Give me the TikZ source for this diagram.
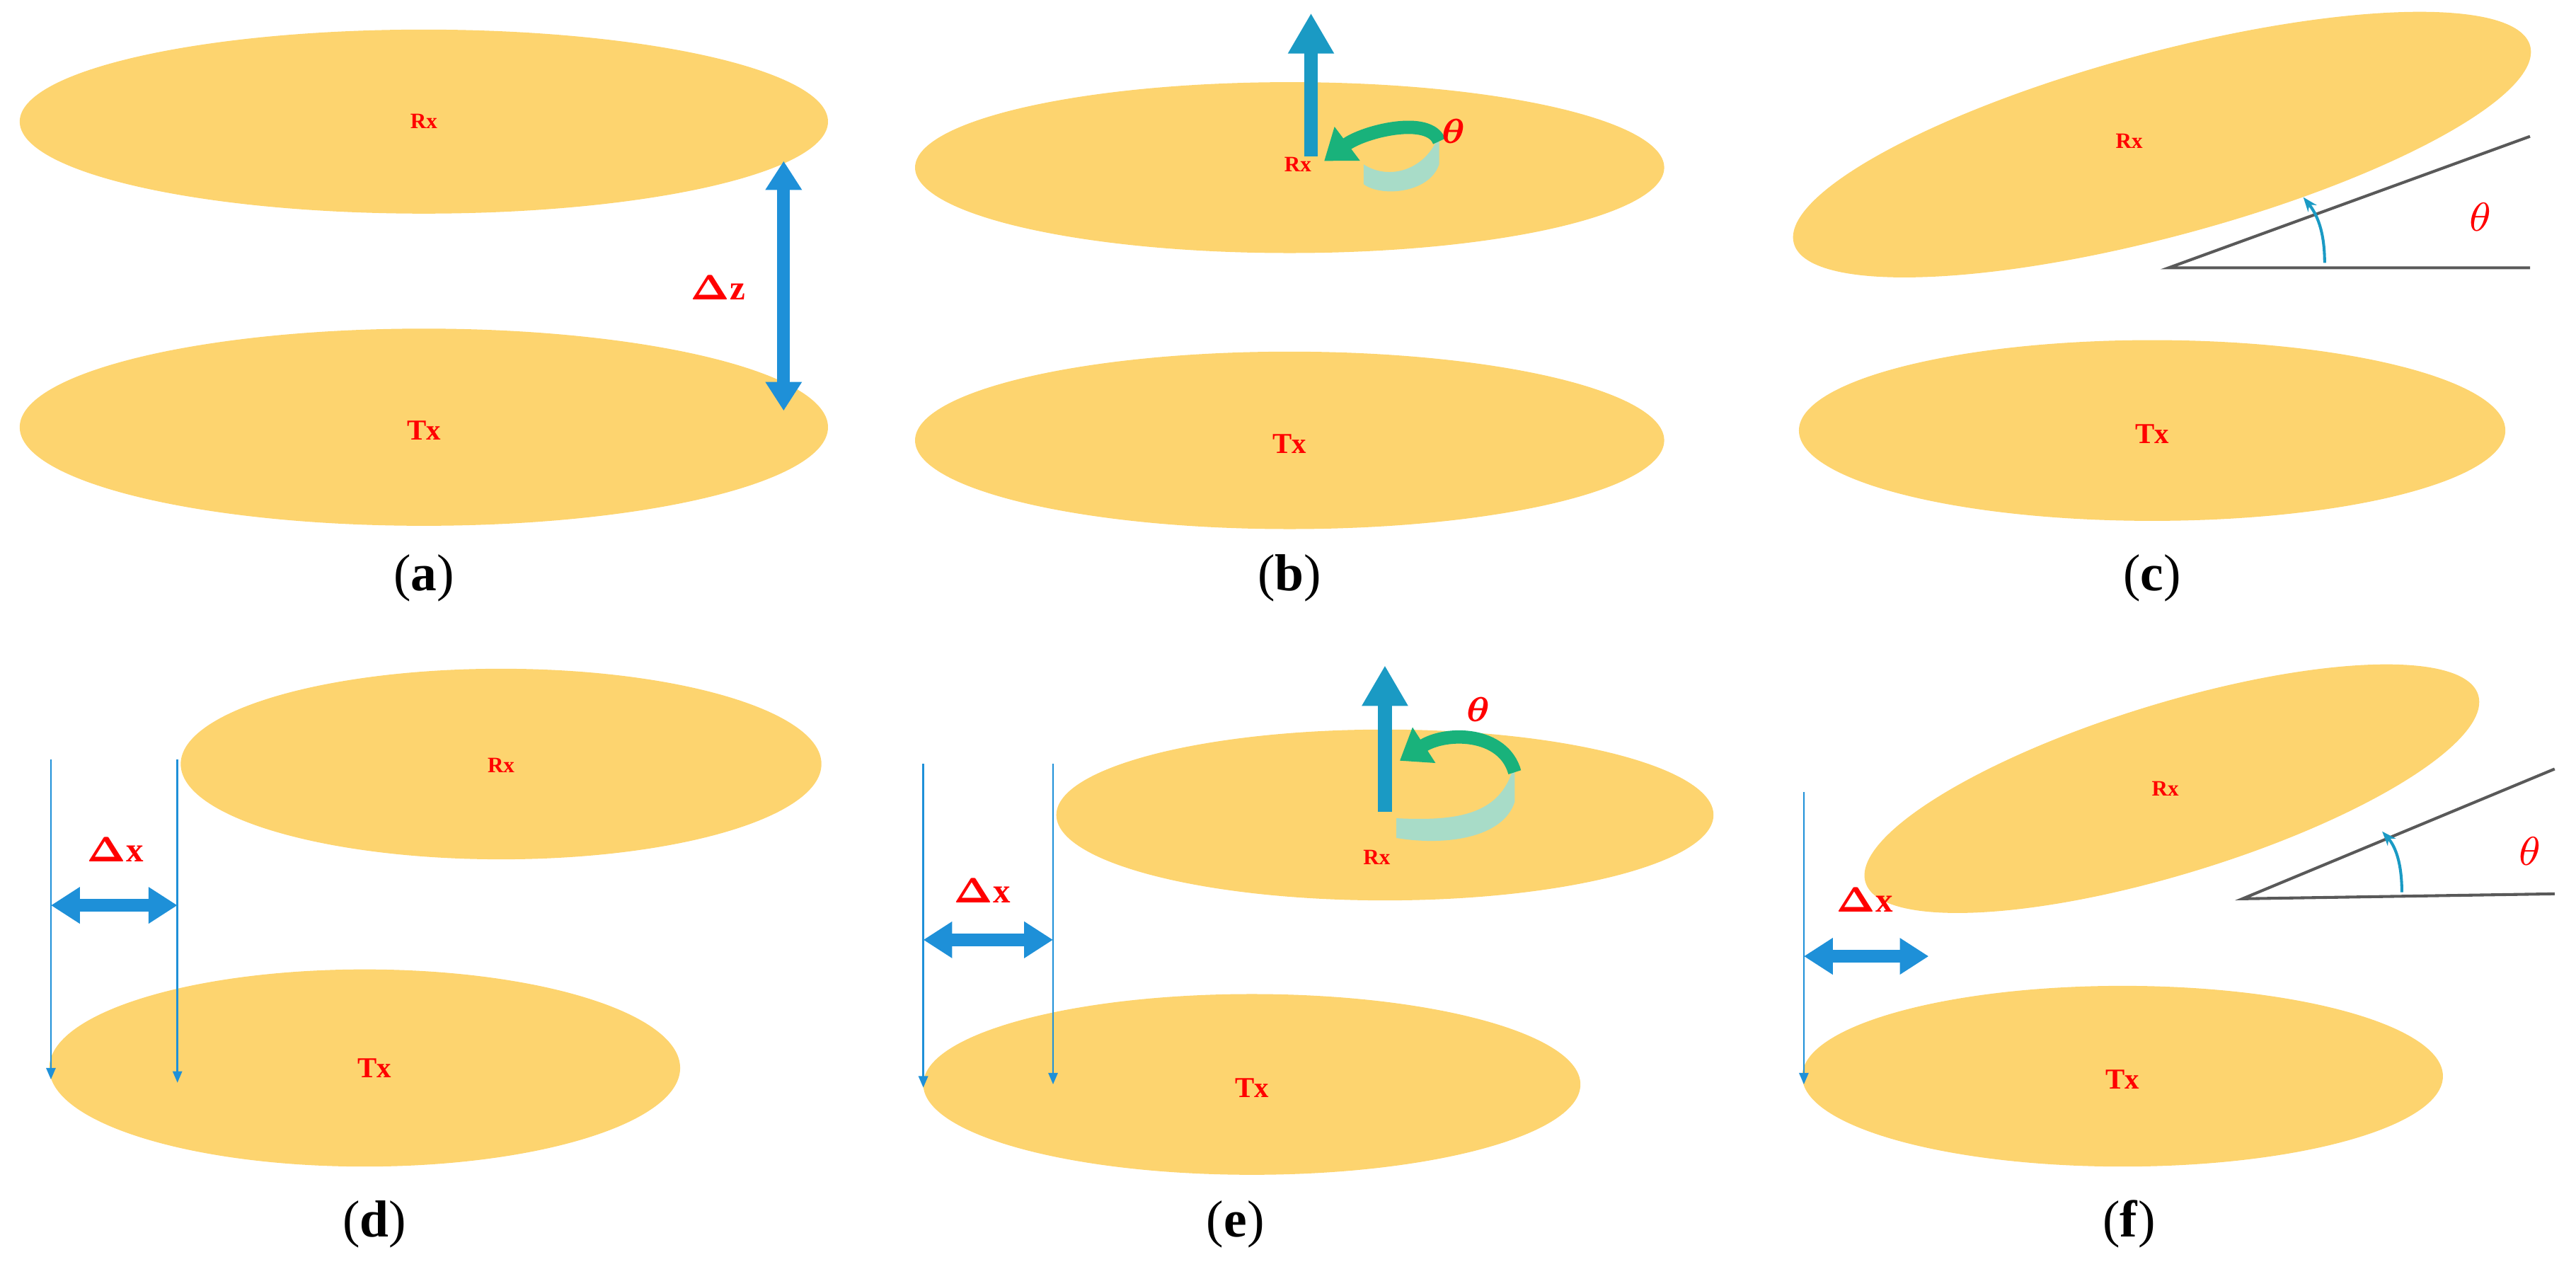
\documentclass[tikz,border=0pt]{standalone}
\usepackage{amsmath,amssymb}
\usepackage{fontspec}
\setmainfont{Liberation Serif}
\usetikzlibrary{arrows.meta}
\definecolor{disk}{HTML}{FDD46F}
\definecolor{bl}{HTML}{1E90D8}
\definecolor{tl}{HTML}{1A9AC4}
\definecolor{gr}{HTML}{19B27B}
\definecolor{lg}{HTML}{A8DCC8}
\begin{document}
\begin{tikzpicture}[x=0.01cm,y=-0.01cm,
 dsk/.style={fill=disk,draw=none},
 lab/.style={text=red,font=\bfseries\fontsize{5}{5}\selectfont},
 labs/.style={text=red,font=\bfseries\fontsize{3.8}{4}\selectfont},
 capt/.style={font=\fontsize{9}{10}\selectfont},
 dbl/.style={bl,line width=2.2pt,{Triangle[length=5pt,width=6pt]}-{Triangle[length=5pt,width=6pt]}},
 thn/.style={bl,line width=0.35pt,-{Triangle[length=2pt,width=1.6pt]}},
 up/.style={tl,line width=2.4pt,-{Triangle[length=7pt,width=7.5pt]}},
 grn/.style={gr,line width=2.3pt,-{Triangle[length=5pt,width=7pt]}},
 gl/.style={gray!70!black,line width=0.5pt},
 arcs/.style={tl,line width=0.5pt,-{Stealth[length=2.5pt]}}]
\useasboundingbox (0,0) rectangle (1568,775);
% (a)
\fill[dsk] (258,74) ellipse [x radius=246,y radius=56];
\fill[dsk] (258,260) ellipse [x radius=246,y radius=60];
\node[labs] (ra) at (258,74) {Rx};
\node[lab] (ta) at (258,262) {Tx};
\coordinate (za) at (477,98); \coordinate (zb) at (477,250);
\draw[dbl] (za) -- (zb);
\node[text=red,font=\bfseries\fontsize{6}{6}\selectfont] (dz) at (437,175) {$\boldsymbol{\Delta}$z};
\node[capt] (ca) at (258,352) {(\textbf{a})};
% (b)
\fill[dsk] (785,102) ellipse [x radius=228,y radius=52];
\fill[dsk] (785,268) ellipse [x radius=228,y radius=54];
\fill[lg] (876,82) -- (876,100) .. controls (870,118) and (840,120) .. (830,112) -- (830,100) .. controls (845,110) and (868,104) .. (876,82);
\coordinate (gb1) at (876,86); \coordinate (gb2) at (806,98);
\draw[grn] (gb1) .. controls (870,70) and (830,80) .. (gb2);
\coordinate (ub1) at (798,95); \coordinate (ub2) at (798,8);
\draw[up] (ub1) -- (ub2);
\node[labs] (rb) at (790,100) {Rx};
\node[lab] (tb) at (785,270) {Tx};
\node[text=red,font=\bfseries\fontsize{6.5}{6}\selectfont] (thb) at (885,80) {$\boldsymbol\theta$};
\node[capt] (cb) at (785,352) {(\textbf{b})};
% (c)
\fill[dsk,rotate around={15:(1316,88)}] (1316,88) ellipse [x radius=232,y radius=56];
\fill[dsk] (1310,262) ellipse [x radius=215,y radius=55];
\coordinate (c0) at (1320,163); \coordinate (c1) at (1540,163); \coordinate (c2) at (1540,83);
\draw[gl] (c1) -- (c0) -- (c2);
\draw[arcs] (1415,160) .. controls (1415,140) and (1410,130) .. (1402,120);
\node[labs] (rc) at (1296,86) {Rx};
\node[lab] (tc) at (1310,264) {Tx};
\node[text=red,font=\fontsize{7}{6}\selectfont] (thc) at (1510,132) {$\theta$};
\node[capt] (cc) at (1310,352) {(\textbf{c})};
% (d)
\fill[dsk] (305,465) ellipse [x radius=195,y radius=58];
\fill[dsk] (222,650) ellipse [x radius=192,y radius=60];
\coordinate (d1) at (31,462); \coordinate (d1b) at (31,657);
\coordinate (d2) at (108,462); \coordinate (d2b) at (108,659);
\draw[thn] (d1) -- (d1b); \draw[thn] (d2) -- (d2b);
\coordinate (dx1) at (31,551); \coordinate (dx2) at (108,551);
\draw[dbl] (dx1) -- (dx2);
\node[text=red,font=\bfseries\fontsize{6}{6}\selectfont] (ldx) at (70,517) {$\boldsymbol{\Delta}$x};
\node[labs] (rd) at (305,466) {Rx};
\node[lab] (td) at (228,650) {Tx};
\node[capt] (cd) at (228,745) {(\textbf{d})};
% (e)
\fill[dsk] (843,496) ellipse [x radius=200,y radius=52];
\fill[dsk] (762,660) ellipse [x radius=200,y radius=55];
\coordinate (e1) at (562,465); \coordinate (e1b) at (562,662);
\coordinate (e2) at (641,465); \coordinate (e2b) at (641,660);
\draw[thn] (e1) -- (e1b); \draw[thn] (e2) -- (e2b);
\coordinate (ex1) at (562,572); \coordinate (ex2) at (641,572);
\draw[dbl] (ex1) -- (ex2);
\node[text=red,font=\bfseries\fontsize{6}{6}\selectfont] (lex) at (598,542) {$\boldsymbol{\Delta}$x};
\fill[lg] (922,464) -- (922,488) .. controls (915,510) and (880,515) .. (850,510) -- (850,498) .. controls (890,500) and (915,495) .. (922,464);
\coordinate (eg1) at (922,470); \coordinate (eg2) at (852,463);
\draw[grn] (eg1) .. controls (915,445) and (880,445) .. (eg2);
\coordinate (eu1) at (843,494); \coordinate (eu2) at (843,405);
\draw[up] (eu1) -- (eu2);
\node[labs] (re) at (838,522) {Rx};
\node[lab] (te) at (762,662) {Tx};
\node[text=red,font=\bfseries\fontsize{6.5}{6}\selectfont] (the) at (900,432) {$\boldsymbol\theta$};
\node[capt] (ce) at (752,745) {(\textbf{e})};
% (f)
\fill[dsk,rotate around={17:(1322,480)}] (1322,480) ellipse [x radius=195,y radius=52];
\fill[dsk] (1292,655) ellipse [x radius=195,y radius=55];
\coordinate (f1) at (1098,482); \coordinate (f1b) at (1098,660);
\draw[thn] (f1) -- (f1b);
\coordinate (fx1) at (1098,582); \coordinate (fx2) at (1174,582);
\draw[dbl] (fx1) -- (fx2);
\node[text=red,font=\bfseries\fontsize{6}{6}\selectfont] (lfx) at (1135,548) {$\boldsymbol{\Delta}$x};
\coordinate (g0) at (1365,547); \coordinate (g1) at (1555,544); \coordinate (g2) at (1555,468);
\draw[gl] (g1) -- (g0) -- (g2);
\draw[arcs] (1462,543) .. controls (1462,525) and (1458,515) .. (1450,506);
\node[labs] (rf) at (1318,480) {Rx};
\node[lab] (tf) at (1292,657) {Tx};
\node[text=red,font=\fontsize{7}{6}\selectfont] (thf) at (1540,518) {$\theta$};
\node[capt] (cf) at (1296,745) {(\textbf{f})};
\end{tikzpicture}
\end{document}
